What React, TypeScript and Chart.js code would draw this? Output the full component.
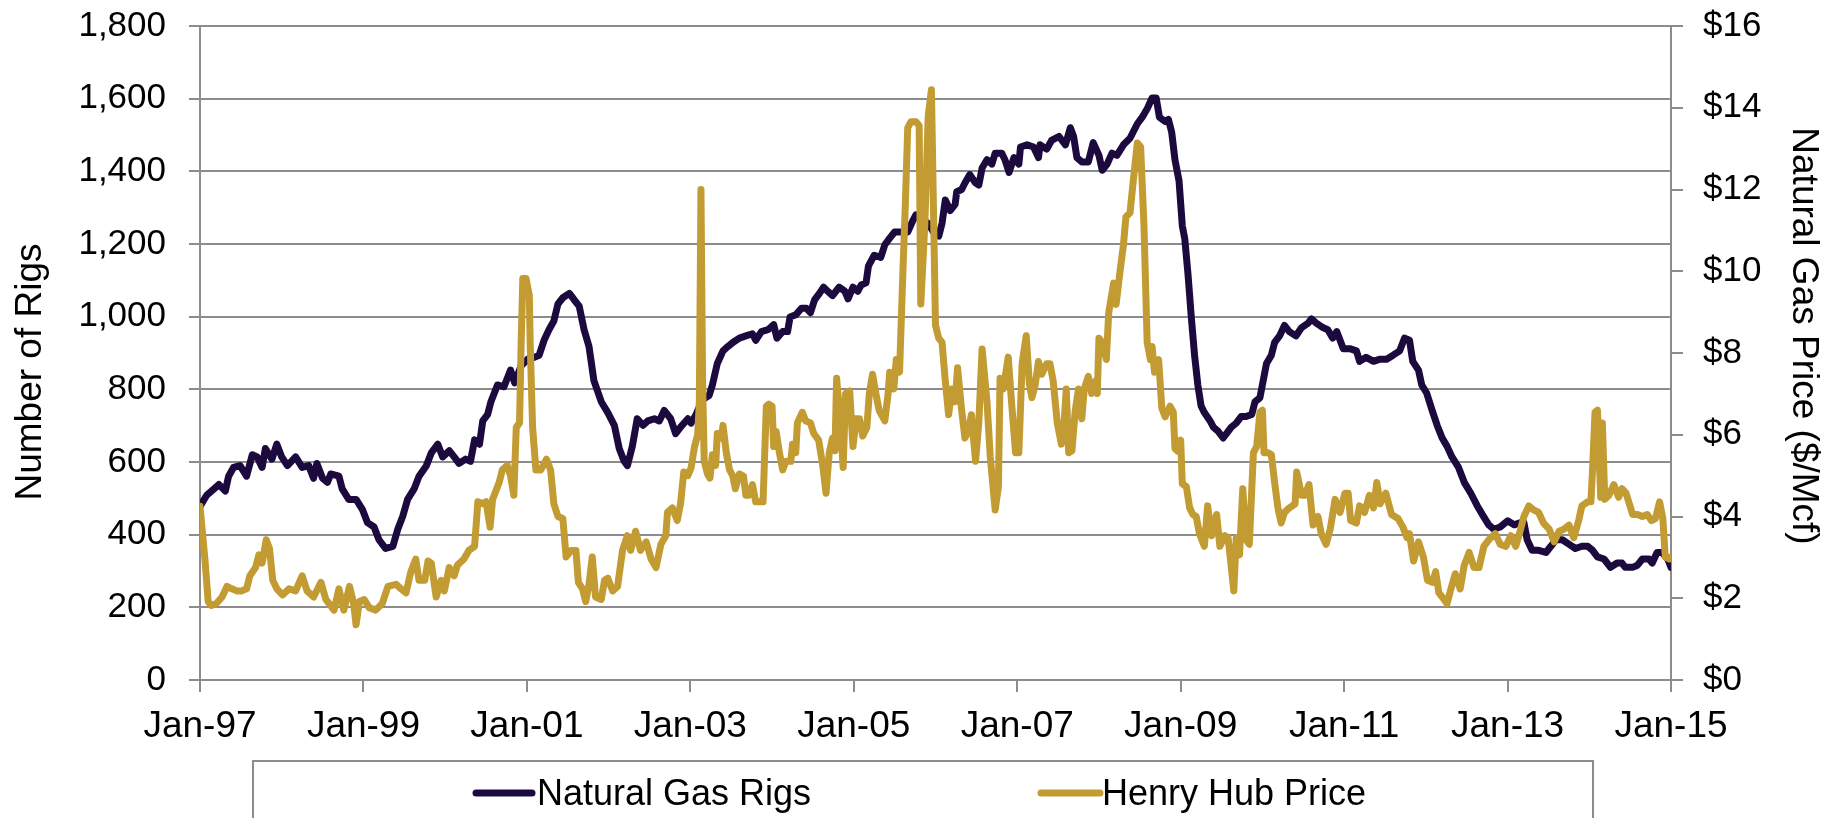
import React, { useEffect, useRef } from "react";
import { Chart, registerables } from "chart.js";

Chart.register(...registerables);

const FONT = "'Liberation Sans', Arial, Helvetica, sans-serif";
const RIG_COLOR = "#1c0a3e";
const PRICE_COLOR = "#c29b32";
const GRID_COLOR = "#8c8c8c";

const seriesLabels = ["Natural Gas Rigs", "Henry Hub Price"];
const leftAxisTitle = "Number of Rigs";
const rightAxisTitle = "Natural Gas Price ($/Mcf)";
const xTickYears = [1997, 1999, 2001, 2003, 2005, 2007, 2009, 2011, 2013, 2015];

// Natural gas rig count (decimal year, rigs)
const rigDates = [
  1997.0, 1997.08, 1997.14, 1997.23, 1997.31, 1997.35, 1997.41, 1997.49, 1997.57, 1997.64, 1997.7, 1997.76, 1997.8, 1997.88, 1997.94,
  1998.0, 1998.07, 1998.17, 1998.25, 1998.33, 1998.39, 1998.43, 1998.5, 1998.56, 1998.6, 1998.7, 1998.74, 1998.82, 1998.91, 1998.99,
  1999.05, 1999.13, 1999.19, 1999.27, 1999.36, 1999.42, 1999.48, 1999.54, 1999.62, 1999.68, 1999.77, 1999.83, 1999.91, 1999.97,
  2000.05, 2000.11, 2000.17, 2000.25, 2000.31, 2000.36, 2000.42, 2000.46, 2000.52, 2000.56, 2000.64, 2000.72, 2000.8, 2000.85, 2000.93,
  2001.01, 2001.09, 2001.15, 2001.21, 2001.27, 2001.33, 2001.38, 2001.44, 2001.52, 2001.58, 2001.64, 2001.7, 2001.76, 2001.82, 2001.91, 2001.99,
  2002.07, 2002.13, 2002.19, 2002.23, 2002.29, 2002.35, 2002.42, 2002.48, 2002.56, 2002.62, 2002.68, 2002.76, 2002.82, 2002.88, 2002.97,
  2003.01, 2003.07, 2003.15, 2003.23, 2003.27, 2003.33, 2003.4, 2003.46, 2003.52, 2003.6, 2003.68, 2003.76, 2003.8, 2003.87, 2003.95,
  2004.02, 2004.06, 2004.13, 2004.19, 2004.22, 2004.29, 2004.36, 2004.42, 2004.47, 2004.52, 2004.58, 2004.63, 2004.68, 2004.74, 2004.82, 2004.89, 2004.93, 2004.99,
  2005.05, 2005.09, 2005.15, 2005.18, 2005.25, 2005.33, 2005.38, 2005.44, 2005.5, 2005.58, 2005.66, 2005.72, 2005.76, 2005.82, 2005.91, 2005.99,
  2006.04, 2006.08, 2006.12, 2006.18, 2006.24, 2006.26, 2006.32, 2006.36, 2006.42, 2006.49, 2006.53, 2006.57, 2006.63, 2006.69, 2006.73, 2006.81, 2006.85, 2006.9, 2006.96,
  2007.02, 2007.04, 2007.12, 2007.2, 2007.26, 2007.28, 2007.36, 2007.42, 2007.51, 2007.59, 2007.65, 2007.69, 2007.73, 2007.79, 2007.87, 2007.93,
  2008.0, 2008.04, 2008.1, 2008.16, 2008.22, 2008.3, 2008.38, 2008.47, 2008.53, 2008.59, 2008.65, 2008.7, 2008.74, 2008.81, 2008.85, 2008.89, 2008.93, 2008.98,
  2009.02, 2009.05, 2009.09, 2009.13, 2009.17, 2009.21, 2009.25, 2009.29, 2009.36, 2009.4, 2009.46, 2009.52, 2009.56, 2009.62, 2009.68, 2009.74, 2009.8, 2009.87, 2009.91, 2009.97,
  2010.01, 2010.05, 2010.11, 2010.15, 2010.21, 2010.27, 2010.33, 2010.41, 2010.48, 2010.56, 2010.6, 2010.66, 2010.74, 2010.8, 2010.86, 2010.91, 2010.99,
  2011.07, 2011.15, 2011.19, 2011.27, 2011.36, 2011.44, 2011.52, 2011.6, 2011.68, 2011.74, 2011.8, 2011.84, 2011.91, 2011.95,
  2012.01, 2012.08, 2012.14, 2012.2, 2012.26, 2012.32, 2012.4, 2012.47, 2012.55, 2012.63, 2012.69, 2012.77, 2012.83, 2012.91,
  2013.0, 2013.08, 2013.16, 2013.2, 2013.24, 2013.3, 2013.38, 2013.47, 2013.53, 2013.59, 2013.67, 2013.75, 2013.83, 2013.91, 2013.98,
  2014.04, 2014.1, 2014.18, 2014.26, 2014.34, 2014.4, 2014.44, 2014.53, 2014.59, 2014.65, 2014.73, 2014.77, 2014.83, 2014.89, 2014.96, 2015.0,
];
const rigValues = [
  478, 508, 520, 538, 520, 561, 585, 590, 561, 620, 614, 585, 637, 608, 649,
  614, 590, 614, 585, 590, 555, 596, 555, 544, 567, 561, 526, 497, 497, 468,
  433, 421, 386, 362, 368, 415, 450, 497, 526, 561, 590, 625, 649, 614,
  631, 614, 596, 608, 602, 661, 649, 713, 731, 766, 812, 807, 853, 818, 865,
  883, 888, 894, 935, 964, 988, 1035, 1052, 1064, 1046, 1029, 964, 918, 824, 766, 736,
  701, 637, 602, 590, 643, 719, 701, 713, 719, 713, 742, 719, 678, 696, 719,
  707, 731, 772, 783, 812, 871, 906, 918, 929, 941, 947, 953, 935, 959, 964,
  978, 941, 959, 959, 999, 1005, 1023, 1023, 1011, 1046, 1064, 1081, 1070, 1058, 1081, 1070, 1049, 1081,
  1070, 1087, 1093, 1140, 1169, 1163, 1198, 1216, 1233, 1233, 1233, 1263, 1280, 1268, 1257, 1227,
  1222, 1257, 1321, 1292, 1309, 1344, 1350, 1368, 1391, 1368, 1362, 1409, 1432, 1420, 1450, 1450, 1432, 1397, 1438,
  1420, 1467, 1473, 1467, 1438, 1473, 1461, 1485, 1496, 1473, 1520, 1496, 1438, 1426, 1426, 1479,
  1444, 1403, 1420, 1450, 1444, 1473, 1491, 1531, 1549, 1572, 1602, 1602, 1549, 1537, 1543, 1508, 1432, 1374,
  1250, 1215, 1116, 999, 894, 812, 754, 736, 713, 696, 684, 666, 678, 696, 707, 725, 725, 731, 766, 777,
  824, 871, 894, 929, 947, 976, 959, 947, 970, 982, 994, 982, 970, 964, 941, 959, 912,
  912, 906, 877, 888, 877, 883, 883, 894, 906, 941, 935, 877, 853, 812,
  790, 740, 700, 666, 643, 614, 585, 544, 514, 479, 456, 427, 415, 421,
  438, 427, 433, 433, 386, 357, 357, 351, 368, 386, 386, 374, 362, 368, 368,
  357, 339, 333, 310, 322, 322, 310, 310, 316, 333, 333, 322, 351, 351, 333, 310,
];

// Henry Hub price (decimal year, $/Mcf)
const priceDates = [
  1997.0, 1997.06, 1997.1, 1997.14, 1997.2, 1997.27, 1997.33, 1997.39, 1997.45, 1997.51, 1997.57, 1997.61, 1997.68, 1997.72, 1997.76, 1997.81, 1997.85, 1997.89, 1997.94,
  1998.01, 1998.09, 1998.17, 1998.25, 1998.31, 1998.39, 1998.48, 1998.54, 1998.64, 1998.7, 1998.76, 1998.83, 1998.88, 1998.91, 1998.95,
  1999.01, 1999.07, 1999.15, 1999.23, 1999.3, 1999.4, 1999.46, 1999.52, 1999.58, 1999.64, 1999.68, 1999.75, 1999.79, 1999.83, 1999.89, 1999.95, 1999.99,
  2000.05, 2000.11, 2000.15, 2000.23, 2000.29, 2000.36, 2000.4, 2000.46, 2000.5, 2000.55, 2000.58, 2000.62, 2000.66, 2000.7, 2000.76, 2000.8, 2000.84, 2000.87, 2000.91, 2000.93, 2000.95, 2000.99,
  2001.03, 2001.04, 2001.07, 2001.11, 2001.17, 2001.24, 2001.29, 2001.33, 2001.38, 2001.44, 2001.48, 2001.54, 2001.6, 2001.63, 2001.68, 2001.72, 2001.76, 2001.8, 2001.84, 2001.91, 2001.95, 2001.99,
  2002.05, 2002.11, 2002.17, 2002.23, 2002.27, 2002.33, 2002.39, 2002.46, 2002.52, 2002.58, 2002.64, 2002.7, 2002.72, 2002.78, 2002.84, 2002.88, 2002.92, 2002.97,
  2003.01, 2003.05, 2003.09, 2003.11, 2003.13, 2003.15, 2003.17, 2003.21, 2003.24, 2003.27, 2003.31, 2003.33, 2003.38, 2003.4, 2003.44, 2003.48, 2003.52, 2003.55, 2003.6, 2003.65, 2003.68, 2003.72, 2003.76, 2003.8, 2003.84, 2003.89, 2003.93, 2003.96,
  2004.0, 2004.02, 2004.05, 2004.09, 2004.13, 2004.17, 2004.23, 2004.25, 2004.29, 2004.31, 2004.37, 2004.41, 2004.47, 2004.51, 2004.57, 2004.62, 2004.66, 2004.7, 2004.74, 2004.77, 2004.79, 2004.83, 2004.87, 2004.9, 2004.95, 2004.99,
  2005.03, 2005.07, 2005.11, 2005.16, 2005.19, 2005.23, 2005.27, 2005.31, 2005.38, 2005.42, 2005.44, 2005.49, 2005.52, 2005.56, 2005.6, 2005.63, 2005.66, 2005.7, 2005.76, 2005.8, 2005.82, 2005.87, 2005.91, 2005.95, 2005.98,
  2006.0, 2006.04, 2006.08, 2006.12, 2006.16, 2006.2, 2006.24, 2006.27, 2006.32, 2006.36, 2006.4, 2006.44, 2006.49, 2006.53, 2006.57, 2006.63, 2006.67, 2006.73, 2006.77, 2006.79, 2006.83, 2006.89, 2006.93, 2006.98,
  2007.02, 2007.06, 2007.11, 2007.15, 2007.18, 2007.22, 2007.26, 2007.3, 2007.36, 2007.4, 2007.44, 2007.49, 2007.54, 2007.57, 2007.6, 2007.63, 2007.67, 2007.71, 2007.75, 2007.79, 2007.82, 2007.87, 2007.91, 2007.96, 2007.98,
  2008.0, 2008.04, 2008.09, 2008.12, 2008.18, 2008.21, 2008.26, 2008.3, 2008.33, 2008.38, 2008.42, 2008.47, 2008.51, 2008.55, 2008.59, 2008.63, 2008.65, 2008.68, 2008.73, 2008.77, 2008.81, 2008.87, 2008.91, 2008.93, 2008.96,
  2009.0, 2009.02, 2009.07, 2009.11, 2009.15, 2009.19, 2009.23, 2009.29, 2009.33, 2009.38, 2009.44, 2009.48, 2009.54, 2009.58, 2009.62, 2009.65, 2009.68, 2009.72, 2009.76, 2009.8, 2009.84, 2009.89, 2009.93, 2009.97,
  2010.0, 2010.02, 2010.07, 2010.11, 2010.15, 2010.19, 2010.23, 2010.27, 2010.33, 2010.4, 2010.42, 2010.48, 2010.52, 2010.57, 2010.62, 2010.68, 2010.72, 2010.78, 2010.83, 2010.89, 2010.95,
  2011.01, 2011.05, 2011.08, 2011.15, 2011.19, 2011.25, 2011.31, 2011.36, 2011.4, 2011.44, 2011.51, 2011.58, 2011.66, 2011.72, 2011.77, 2011.8, 2011.85, 2011.91, 2011.97,
  2012.02, 2012.08, 2012.12, 2012.16, 2012.2, 2012.26, 2012.3, 2012.36, 2012.42, 2012.47, 2012.53, 2012.59, 2012.65, 2012.71, 2012.77, 2012.85, 2012.91, 2012.98,
  2013.04, 2013.1, 2013.16, 2013.2, 2013.26, 2013.32, 2013.38, 2013.44, 2013.51, 2013.57, 2013.63, 2013.69, 2013.75, 2013.81, 2013.87, 2013.91, 2013.98,
  2014.02, 2014.04, 2014.07, 2014.1, 2014.14, 2014.16, 2014.19, 2014.24, 2014.3, 2014.36, 2014.4, 2014.45, 2014.49, 2014.53, 2014.59, 2014.65, 2014.71, 2014.76, 2014.81, 2014.86, 2014.9, 2014.93, 2014.98, 2015.0,
];
const priceValues = [
  4.25, 2.96, 1.92, 1.82, 1.87, 2.03, 2.29, 2.23, 2.18, 2.18, 2.23, 2.55, 2.75, 3.06, 2.86, 3.43, 3.22, 2.44, 2.23,
  2.08, 2.23, 2.18, 2.55, 2.18, 2.03, 2.39, 1.97, 1.71, 2.23, 1.71, 2.29, 1.87, 1.35, 1.92,
  1.97, 1.77, 1.71, 1.87, 2.29, 2.34, 2.23, 2.13, 2.65, 2.96, 2.44, 2.44, 2.91, 2.86, 2.03, 2.44, 2.18,
  2.75, 2.55, 2.81, 2.96, 3.17, 3.27, 4.36, 4.31, 4.36, 3.74, 4.42, 4.62, 4.83, 5.14, 5.25, 4.99, 4.52, 6.18, 6.29, 8.26, 9.82, 9.82,
  9.4, 8.26, 6.18, 5.14, 5.14, 5.4, 5.14, 4.31, 4.0, 3.95, 3.01, 3.17, 3.17, 2.39, 2.23, 1.92, 2.34, 3.01, 2.03, 1.97, 2.44, 2.49,
  2.18, 2.29, 3.17, 3.53, 3.17, 3.64, 3.17, 3.38, 2.96, 2.75, 3.32, 3.53, 4.1, 4.21, 3.9, 4.31, 5.09, 5.0,
  5.2, 5.7, 6.0, 6.8, 12.0, 7.3, 5.35, 5.04, 4.94, 5.51, 5.25, 6.03, 5.92, 6.23, 5.56, 5.14, 4.99, 4.68, 5.04, 4.99, 4.52, 4.52, 4.78, 4.36, 4.36, 4.36, 6.7, 6.75,
  6.7, 5.71, 6.08, 5.56, 5.14, 5.35, 5.35, 5.77, 5.56, 6.29, 6.55, 6.34, 6.29, 6.03, 5.87, 5.25, 4.57, 5.56, 5.92, 5.61, 7.38, 6.44, 5.2, 7.01, 7.07, 5.71,
  6.39, 6.39, 5.97, 6.18, 7.01, 7.48, 7.01, 6.6, 6.34, 7.01, 7.53, 7.12, 7.84, 7.53, 9.92, 11.58, 13.51, 13.66, 13.66, 13.56, 9.2, 11.17, 13.77, 14.44, 10.96,
  8.68, 8.36, 8.26, 7.32, 6.49, 7.12, 6.81, 7.64, 6.6, 5.92, 6.08, 6.49, 5.35, 6.29, 8.1, 6.81, 5.46, 4.16, 4.73, 7.38, 7.12, 7.9, 6.81, 5.56,
  5.56, 7.74, 8.42, 7.22, 6.91, 7.22, 7.79, 7.48, 7.74, 7.74, 7.32, 6.29, 5.77, 6.18, 7.12, 5.56, 5.61, 6.6, 7.12, 6.39, 7.12, 7.43, 7.01, 7.32, 7.01,
  8.36, 8.26, 7.84, 8.99, 9.71, 9.19, 10.03, 10.65, 11.33, 11.43, 12.21, 13.14, 13.04, 11.17, 8.26, 7.84, 8.16, 7.53, 7.84, 6.65, 6.44, 6.7, 6.55, 5.66, 5.6,
  5.87, 4.8, 4.73, 4.21, 4.05, 4.0, 3.58, 3.27, 4.26, 3.53, 4.05, 3.27, 3.53, 3.48, 2.75, 2.18, 3.48, 3.06, 4.68, 3.43, 3.32, 5.56, 5.71, 6.55,
  6.6, 5.56, 5.56, 5.51, 4.83, 4.21, 3.84, 4.1, 4.21, 4.31, 5.09, 4.52, 4.52, 4.78, 3.79, 4.0, 3.58, 3.32, 3.69, 4.42, 4.1,
  4.57, 4.57, 3.9, 3.84, 4.26, 4.1, 4.52, 4.21, 4.83, 4.31, 4.57, 4.05, 3.95, 3.74, 3.48, 3.58, 2.91, 3.38, 3.01,
  2.44, 2.39, 2.65, 2.13, 2.03, 1.87, 2.18, 2.6, 2.23, 2.81, 3.12, 2.75, 2.75, 3.27, 3.43, 3.58, 3.32, 3.27,
  3.53, 3.27, 3.69, 4.0, 4.26, 4.16, 4.1, 3.84, 3.69, 3.38, 3.64, 3.69, 3.79, 3.48, 3.9, 4.26, 4.36,
  4.36, 5.14, 6.55, 6.6, 4.47, 6.29, 4.42, 4.52, 4.78, 4.47, 4.68, 4.57, 4.31, 4.05, 4.05, 4.0, 4.05, 3.9, 3.95, 4.36, 3.95, 3.01, 2.96, 3.01,
];

const boxLegend = {
  id: "boxLegend",
  afterDraw(chart: any) {
    const ctx = chart.ctx as CanvasRenderingContext2D;
    const area = chart.chartArea;
    const top = area.bottom + 81;
    const left = area.left + 53;
    const right = area.left + 1393;
    ctx.save();
    ctx.strokeStyle = GRID_COLOR;
    ctx.lineWidth = 2;
    ctx.strokeRect(left, top, right - left, 120);
    const cy = top + 32;
    const items = [
      { x0: area.left + 276, x1: area.left + 332, tx: area.left + 337 },
      { x0: area.left + 841, x1: area.left + 900, tx: area.left + 902 },
    ];
    chart.data.datasets.forEach((ds: any, i: number) => {
      const it = items[i];
      ctx.strokeStyle = ds.borderColor;
      ctx.lineWidth = 7;
      ctx.lineCap = "round";
      ctx.beginPath();
      ctx.moveTo(it.x0, cy);
      ctx.lineTo(it.x1, cy);
      ctx.stroke();
      ctx.fillStyle = "#000";
      ctx.font = `36px ${FONT}`;
      ctx.textBaseline = "middle";
      ctx.textAlign = "left";
      ctx.fillText(ds.label, it.tx, cy + 2);
    });
    ctx.restore();
  },
};

const axisTitles = {
  id: "axisTitles",
  afterDraw(chart: any) {
    const ctx = chart.ctx as CanvasRenderingContext2D;
    const area = chart.chartArea;
    const mid = (area.top + area.bottom) / 2;
    ctx.save();
    ctx.fillStyle = "#000";
    ctx.font = `37px ${FONT}`;
    ctx.textAlign = "center";
    ctx.textBaseline = "alphabetic";
    ctx.save();
    ctx.translate(area.left - 159, mid + 19);
    ctx.rotate(-Math.PI / 2);
    ctx.fillText(leftAxisTitle, 0, 0);
    ctx.restore();
    ctx.save();
    ctx.translate(area.right + 122, mid - 17);
    ctx.rotate(Math.PI / 2);
    ctx.fillText(rightAxisTitle, 0, 0);
    ctx.restore();
    ctx.restore();
  },
};

const noVerticalOverflow = (scale: any, width: number) => {
  scale.width = width;
  scale.paddingTop = 0;
  scale.paddingBottom = 0;
};

export default function App() {
  const canvasRef = useRef<HTMLCanvasElement | null>(null);

  useEffect(() => {
    const canvas = canvasRef.current;
    if (!canvas) return;
    const chart = new Chart(canvas, {
      type: "line",
      data: {
        datasets: [
          {
            label: seriesLabels[0],
            data: rigDates.map((d, i) => ({ x: d, y: rigValues[i] })),
            yAxisID: "yRigs",
            borderColor: RIG_COLOR,
            backgroundColor: RIG_COLOR,
            borderWidth: 7,
            pointRadius: 0,
            tension: 0,
            borderJoinStyle: "round",
            borderCapStyle: "round",
            order: 2,
          },
          {
            label: seriesLabels[1],
            data: priceDates.map((d, i) => ({ x: d, y: priceValues[i] })),
            yAxisID: "yPrice",
            borderColor: PRICE_COLOR,
            backgroundColor: PRICE_COLOR,
            borderWidth: 7,
            pointRadius: 0,
            tension: 0,
            borderJoinStyle: "round",
            borderCapStyle: "round",
            order: 1,
          },
        ],
      },
      options: {
        responsive: false,
        animation: false,
        events: [],
        layout: { padding: { top: 26, bottom: 66, left: 0, right: 0 } },
        plugins: {
          legend: { display: false },
          tooltip: { enabled: false },
        },
        scales: {
          x: {
            type: "linear",
            min: xTickYears[0],
            max: xTickYears[xTickYears.length - 1],
            afterBuildTicks: (scale: any) => {
              scale.ticks = xTickYears.map((v) => ({ value: v }));
            },
            ticks: {
              font: { family: FONT, size: 37 },
              color: "#000",
              padding: 13,
              maxRotation: 0,
              autoSkip: false,
              callback: (v: any) => "Jan-" + String(v).slice(2),
            },
            grid: { drawOnChartArea: false, drawTicks: true, tickLength: 12, color: GRID_COLOR, lineWidth: 2 },
            border: { display: true, color: GRID_COLOR, width: 2 },
            afterFit: (scale: any) => {
              scale.height = 72;
            },
          },
          yRigs: {
            type: "linear",
            position: "left",
            min: 0,
            max: 1800,
            ticks: {
              stepSize: 200,
              font: { family: FONT, size: 35 },
              color: "#000",
              padding: 23,
              callback: (v: any) => Number(v).toLocaleString("en-US"),
            },
            grid: { drawOnChartArea: true, drawTicks: true, tickLength: 11, color: GRID_COLOR, lineWidth: 2 },
            border: { display: true, color: GRID_COLOR, width: 2 },
            afterFit: (scale: any) => noVerticalOverflow(scale, 200),
          },
          yPrice: {
            type: "linear",
            position: "right",
            min: 0,
            max: 16,
            ticks: {
              stepSize: 2,
              font: { family: FONT, size: 35 },
              color: "#000",
              padding: 20,
              callback: (v: any) => "$" + v,
            },
            grid: { drawOnChartArea: false, drawTicks: true, tickLength: 12, color: GRID_COLOR, lineWidth: 2 },
            border: { display: true, color: GRID_COLOR, width: 2 },
            afterFit: (scale: any) => noVerticalOverflow(scale, 172),
          },
        },
      },
      plugins: [boxLegend, axisTitles],
    });
    return () => chart.destroy();
  }, []);

  return (
    <div style={{ position: "absolute", left: 0, top: 0, width: 1843, height: 818, background: "#fff", overflow: "hidden" }}>
      <canvas ref={canvasRef} width={1843} height={818} style={{ width: 1843, height: 818, display: "block" }} />
    </div>
  );
}
